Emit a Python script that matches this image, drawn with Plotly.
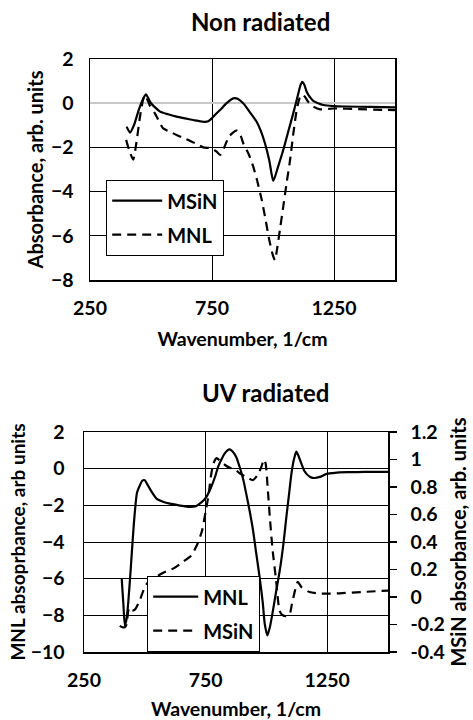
import plotly.graph_objects as go

# ---------------- data: Non radiated ----------------
nr_msin_x = [400, 414, 430, 450, 468, 479, 500, 537, 570, 605, 640, 673, 714, 735, 749, 765, 783,
             810, 837, 855, 878, 905, 933, 950, 967, 985, 1001, 1020, 1042, 1062, 1083, 1104, 1112,
             1120, 1128, 1138, 1150, 1165, 1185, 1206, 1247, 1300, 1400, 1500]
nr_msin_y = [-1.06, -1.33, -1.0, -0.3, 0.2, 0.4, 0.0, -0.38, -0.5, -0.61, -0.69, -0.76, -0.84, -0.82,
             -0.68, -0.5, -0.31, 0.0, 0.22, 0.2, 0.0, -0.4, -0.84, -1.25, -1.81, -2.6, -3.52, -2.9,
             -2.12, -1.3, -0.46, 0.45, 0.8, 0.97, 0.85, 0.52, 0.3, 0.11, 0.0, -0.08, -0.13, -0.15,
             -0.17, -0.19]

nr_mnl_x = [398, 410, 427, 440, 455, 469, 476, 495, 516, 550, 580, 605, 640, 667, 695, 714, 749,
            769, 783, 800, 820, 851, 865, 878, 900, 919, 935, 954, 970, 985, 1000, 1008, 1018, 1030,
            1042, 1056, 1070, 1083, 1097, 1108, 1118, 1130, 1145, 1165, 1193, 1250, 1350, 1450, 1500]
nr_mnl_y = [-1.66, -2.1, -2.55, -1.8, -0.6, 0.22, 0.35, -0.1, -0.46, -1.14, -1.3, -1.44, -1.6, -1.74,
            -1.88, -2.0, -2.04, -2.19, -2.34, -2.0, -1.5, -1.24, -1.4, -1.81, -2.3, -2.87, -3.5,
            -4.38, -5.3, -6.2, -6.9, -7.1, -6.5, -5.6, -4.68, -3.6, -2.57, -1.4, -0.31, 0.2, 0.4,
            0.3, 0.05, -0.15, -0.28, -0.24, -0.27, -0.3, -0.31]

# ---------------- data: UV radiated ----------------
uv_mnl_x = [405, 412, 418, 425, 432, 442, 455, 468, 480, 490, 500, 512, 530, 548, 575, 603, 640,
            685, 710, 726, 740, 753, 773, 790, 801, 815, 828, 840, 848, 860, 876, 890, 905, 917, 931,
            945, 958, 972, 985, 993, 1004, 1015, 1027, 1040, 1055, 1070, 1082, 1093, 1103, 1113,
            1123, 1132, 1144, 1155, 1164, 1180, 1198, 1220, 1245, 1274, 1300, 1350, 1400, 1450, 1500]
uv_mnl_y = [-6.0, -7.4, -8.55, -8.2, -7.3, -5.5, -3.0, -1.3, -0.9, -0.65, -0.63, -0.9, -1.3, -1.63,
            -1.8, -1.91, -2.0, -2.09, -2.05, -1.91, -1.75, -1.55, -1.0, -0.4, 0.09, 0.5, 0.82,
            1.0, 1.05, 0.95, 0.64, 0.09, -0.6, -1.36, -2.3, -3.36, -4.6, -5.91, -7.3, -8.45, -9.09,
            -8.6, -7.73, -6.7, -5.55, -4.1, -2.64, -1.4, -0.27, 0.5, 0.93, 0.7, 0.27, -0.1, -0.27,
            -0.45, -0.51, -0.45, -0.3, -0.24, -0.2, -0.19, -0.18, -0.18, -0.18]

uv_msin_x = [397, 408, 418, 425, 435, 448, 460, 478, 495, 510, 540, 580, 620, 660, 690, 715, 735,
             750, 762, 772, 782, 795, 810, 830, 850, 870, 890, 920, 944, 965, 980, 990, 997, 1005,
             1015, 1025, 1040, 1054, 1065, 1080, 1095, 1105, 1118, 1129, 1145, 1177, 1220, 1259,
             1300, 1400, 1500]
uv_msin_y = [-0.21, -0.22, -0.22, -0.2, -0.08, -0.1, -0.09, -0.03, 0.05, 0.1, 0.14, 0.18, 0.21,
             0.26, 0.3, 0.38, 0.48, 0.62, 0.74, 0.88, 0.97, 1.01, 0.99, 0.96, 0.94, 0.93, 0.9, 0.87,
             0.85, 0.89, 0.95, 1.0, 0.97, 0.8, 0.56, 0.35, 0.12, -0.1, -0.13, -0.14, -0.13, -0.05,
             0.05, 0.11, 0.07, 0.036, 0.025, 0.024, 0.027, 0.037, 0.047]

x_ticks = [250, 750, 1250]
right_ticks = [-0.4, -0.2, 0, 0.2, 0.4, 0.6, 0.8, 1.0, 1.2]
right_ticktext = ["-0.4", "-0.2", "0", "0.2", "0.4", "0.6", "0.8", "1", "1.2"]

W, H = 473, 720
FONT = "Lato"
BLACK = "#000000"


def px_x(p):
    return p / W


def px_y(p):
    return (H - p) / H


fig = go.Figure()

line_kw = dict(color=BLACK, width=2.2, shape="spline", smoothing=0.6)
DASH = "9px,6px"
fig.add_trace(go.Scatter(x=nr_msin_x, y=nr_msin_y, name="MSiN", mode="lines",
                         line=dict(**line_kw),
                         xaxis="x", yaxis="y", legend="legend", legendgroup="a"))
fig.add_trace(go.Scatter(x=nr_mnl_x, y=nr_mnl_y, name="MNL", mode="lines",
                         line=dict(dash=DASH, **line_kw),
                         xaxis="x", yaxis="y", legend="legend", legendgroup="b"))
fig.add_trace(go.Scatter(x=uv_mnl_x, y=uv_mnl_y, name="MNL", mode="lines",
                         line=dict(**line_kw),
                         xaxis="x2", yaxis="y2", legend="legend2", legendgroup="c"))
fig.add_trace(go.Scatter(x=uv_msin_x, y=uv_msin_y, name="MSiN", mode="lines",
                         line=dict(dash=DASH, **line_kw),
                         xaxis="x2", yaxis="y3", legend="legend2", legendgroup="d"))

tickfont = dict(family=FONT, size=19.5, color=BLACK, weight="bold")
titlefont = dict(family=FONT, size=20, color=BLACK, weight="bold")
ltitlefont = dict(family=FONT, size=19, color=BLACK, weight="bold")
xtitlefont = dict(family=FONT, size=19.5, color=BLACK, weight="bold")
legfont = dict(family=FONT, size=20, color=BLACK, weight="bold")

common_x = dict(range=[250, 1500], tickvals=x_ticks, showgrid=True, gridcolor=BLACK, gridwidth=1,
                showline=True, linecolor=BLACK, linewidth=1.5, mirror=True, ticks="",
                zeroline=False, tickfont=tickfont, ticklabelstandoff=10, automargin=False)

fig.update_layout(
    width=W, height=H, autosize=False,
    margin=dict(l=0, r=0, t=0, b=0, pad=0, autoexpand=False),
    paper_bgcolor="white", plot_bgcolor="white",
    font=dict(family=FONT, color=BLACK),
    hovermode=False,
    xaxis=dict(domain=[px_x(90), px_x(395)], anchor="y",
               title=dict(text="Wavenumber, 1/cm", font=xtitlefont, standoff=14), **common_x),
    yaxis=dict(domain=[px_y(280), px_y(59)], anchor="x", range=[-8, 2], dtick=2,
               showgrid=True, gridcolor=BLACK, gridwidth=1,
               zeroline=True, zerolinecolor="#c8c8c8", zerolinewidth=1.5,
               showline=True, linecolor=BLACK, linewidth=1.5, mirror=True, ticks="",
               tickfont=tickfont, ticklabelstandoff=11, automargin=False,
               title=dict(text="Absorbance, arb. units", font=titlefont, standoff=2)),
    xaxis2=dict(domain=[px_x(84), px_x(388)], anchor="y2",
                title=dict(text="Wavenumber, 1/cm", font=xtitlefont, standoff=13), **common_x),
    yaxis2=dict(domain=[px_y(652), px_y(432)], anchor="x2", range=[-10, 2], dtick=2,
                showgrid=True, gridcolor=BLACK, gridwidth=1, zeroline=False,
                showline=True, linecolor=BLACK, linewidth=1.5, mirror=True, ticks="",
                tickfont=tickfont, ticklabelstandoff=14, automargin=False,
                title=dict(text="MNL absoprbance, arb units", font=ltitlefont, standoff=0)),
    yaxis3=dict(overlaying="y2", side="right", anchor="x2", range=[-0.4, 1.2],
                showgrid=False, zeroline=False, showline=True, linecolor=BLACK, linewidth=1.5,
                ticks="outside", ticklen=7, tickwidth=1.5, tickcolor=BLACK,
                tickvals=right_ticks, ticktext=right_ticktext,
                tickfont=tickfont, ticklabelstandoff=10, automargin=False,
                title=dict(text="MSiN absorbance, arb. units", font=titlefont, standoff=8)),
    legend=dict(x=px_x(106), y=px_y(180), xanchor="left", yanchor="top",
                bgcolor="white", bordercolor=BLACK, borderwidth=1.2, font=legfont,
                traceorder="grouped", tracegroupgap=5, itemwidth=50),
    legend2=dict(x=px_x(147), y=px_y(576), xanchor="left", yanchor="top",
                 bgcolor="white", bordercolor=BLACK, borderwidth=1.2, font=legfont,
                 traceorder="grouped", tracegroupgap=5, itemwidth=45),
    annotations=[
        dict(text="Non radiated", x=px_x(260), y=px_y(21), xref="paper", yref="paper",
             xanchor="center", yanchor="middle", showarrow=False,
             font=dict(family=FONT, size=24, color=BLACK, weight="bold")),
        dict(text="UV radiated", x=px_x(265), y=px_y(392), xref="paper", yref="paper",
             xanchor="center", yanchor="middle", showarrow=False,
             font=dict(family=FONT, size=24, color=BLACK, weight="bold")),
    ],
)

fig.write_html("out.html", config={"displayModeBar": False, "staticPlot": True},
               post_script="document.body.style.margin='0px';")
